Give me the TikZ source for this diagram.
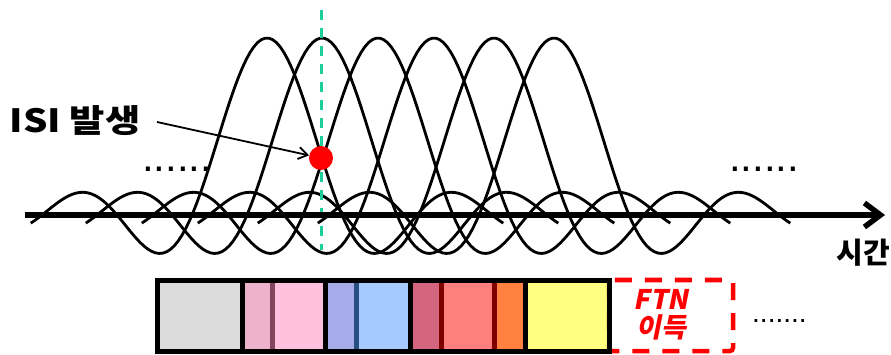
\documentclass[tikz,border=0pt]{standalone}
\usepackage{fontspec}
\newfontfamily\kr{Noto Sans CJK KR}
\newfontfamily\krwide[FakeStretch=1.2]{Noto Sans CJK KR}
\newfontfamily\krslant[FakeSlant=0.2]{Noto Sans CJK KR}
\newfontfamily\dotfont{Liberation Sans}
\usetikzlibrary{arrows.meta}

\definecolor{guidegreen}{HTML}{1ECE9A}
\definecolor{cellgray}{HTML}{DCDCDC}
\definecolor{mauve}{HTML}{EDB3CB}
\definecolor{mauvedark}{HTML}{84465E}
\definecolor{pinklight}{HTML}{FEC0DC}
\definecolor{lavender}{HTML}{A6ACE9}
\definecolor{navy}{HTML}{274F82}
\definecolor{skyblue}{HTML}{A6CAFE}
\definecolor{rose}{HTML}{D3657F}
\definecolor{maroon}{HTML}{800000}
\definecolor{salmon}{HTML}{FF7F7F}
\definecolor{orange}{HTML}{FF803F}
\definecolor{lemon}{HTML}{FFFF80}

\tikzset{
  pulse/.style={line width=2.8pt, black, line join=round},
  timeaxis/.style={line width=5.5pt, -{Straight Barb[length=16pt,width=24pt]}},
  guide/.style={draw=guidegreen, line width=3pt, dash pattern=on 10pt off 8pt},
  isidot/.style={circle, fill=red, minimum size=24pt, inner sep=0pt},
  pointer/.style={line width=1.8pt, -{Straight Barb[length=9pt,width=12pt]}},
  lbl/.style={font=\krwide\bfseries\fontsize{32}{32}\selectfont, inner sep=0pt},
  axislbl/.style={font=\kr\bfseries\fontsize{29}{29}\selectfont, inner sep=0pt},
  gain/.style={font=\krslant\bfseries\fontsize{27}{28}\selectfont, text=red, align=center, inner sep=0pt},
  bigdots/.style={font=\dotfont\fontsize{42}{42}\selectfont, inner sep=0pt, anchor=base west},
  smalldots/.style={font=\dotfont\fontsize{28}{28}\selectfont, inner sep=0pt, anchor=base west},
  frame/.style={draw=black, line width=5pt},
  sep/.style={line width=5pt},
  ftnbox/.style={draw=red, line width=4.5pt, dash pattern=on 17pt off 13pt, rounded corners=3pt},
}

\begin{document}
\begin{tikzpicture}[x=1pt, y=-1pt]
  \useasboundingbox (0,0) rectangle (891,355);

  % overlapping sinc pulses
  \foreach \c in {267,322,378,434,494,554}{
    \draw[pulse] plot[domain=-3.15:3.15, samples=126]
      ({\c+75*\x}, {215-177*sin(180*\x)/(pi*\x)});
  }

  % sampling instant
  \coordinate (gtop) at (321,10);
  \coordinate (gbot) at (321,250);
  \draw[guide] (gtop) -- (gbot);

  % time axis
  \coordinate (axL) at (25,215);
  \coordinate (axR) at (885,215);
  \draw[timeaxis] (axL) -- (axR);
  \node[axislbl, anchor=east] (time) at (890,253) {시간};

  % ISI marker
  \node[isidot] (dot) at (321,158) {};
  \node[lbl] (isi) at (75,121) {ISI 발생};
  \coordinate (tail) at (157,122);
  \draw[pointer] (tail) -- (dot);

  % continuation dots
  \node[bigdots] (dotsL) at (142,172) {......};
  \node[bigdots] (dotsR) at (729,172) {......};
  \node[smalldots] (dotsB) at (752,322.5) {.......};

  % symbol strip
  \fill[cellgray]  (157,280.5) rectangle (242,351.5);
  \fill[mauve]     (242,280.5) rectangle (272.5,351.5);
  \fill[pinklight] (272.5,280.5) rectangle (325.5,351.5);
  \fill[lavender]  (325.5,280.5) rectangle (356.5,351.5);
  \fill[skyblue]   (356.5,280.5) rectangle (410.5,351.5);
  \fill[rose]      (410.5,280.5) rectangle (441.5,351.5);
  \fill[salmon]    (441.5,280.5) rectangle (494.5,351.5);
  \fill[orange]    (494.5,280.5) rectangle (525.5,351.5);
  \fill[lemon]     (525.5,280.5) rectangle (609,351.5);

  \draw[sep, mauvedark] (272.5,280.5) -- (272.5,351.5);
  \draw[sep, navy]      (356.5,280.5) -- (356.5,351.5);
  \draw[sep, maroon]    (441.5,280.5) -- (441.5,351.5);
  \draw[sep, maroon]    (494.5,280.5) -- (494.5,351.5);

  % FTN gain slot
  \draw[ftnbox] (609,280) rectangle (733,351);
  \node[gain] (ftn) at (661,315) {FTN\\이득};

  \draw[sep] (242,280.5) -- (242,351.5);
  \draw[sep] (325.5,280.5) -- (325.5,351.5);
  \draw[sep] (410.5,280.5) -- (410.5,351.5);
  \draw[sep] (525.5,280.5) -- (525.5,351.5);
  \draw[frame] (157.5,280.5) rectangle (609,351.5);
\end{tikzpicture}
\end{document}
